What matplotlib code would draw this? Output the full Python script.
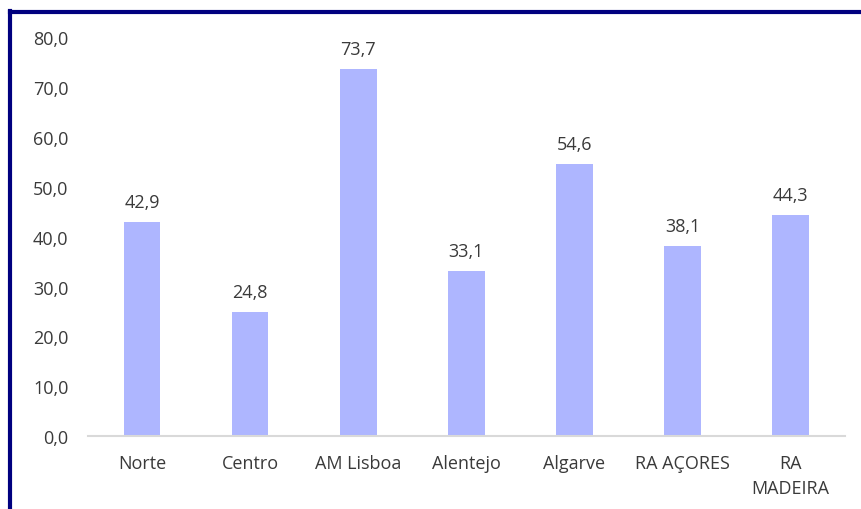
import matplotlib.pyplot as plt
from matplotlib.lines import Line2D

regioes = ["Norte", "Centro", "AM Lisboa", "Alentejo", "Algarve", "RA AÇORES", "RA\nMADEIRA"]
valores = [42.9, 24.8, 73.7, 33.1, 54.6, 38.1, 44.3]
y_ticks = [0, 10, 20, 30, 40, 50, 60, 70, 80]

plt.rcParams['font.family'] = ['Open Sans', 'DejaVu Sans']
cor_texto = "#3a3a3a"
fs = 13

fig = plt.figure(figsize=(8.62, 5.10), dpi=100)
ax = fig.add_axes([0.102, 0.143, 0.878, 0.782])

x = range(len(regioes))
bars = ax.bar(x, valores, width=0.34, color="#AEB6FF")

for i, v in enumerate(valores):
    ax.annotate(f"{v:.1f}".replace(".", ","), (i, v), xytext=(0, 8),
                textcoords="offset points", ha="center", va="bottom",
                fontsize=fs, color=cor_texto)

ax.set_xlim(-0.5, len(regioes) - 0.5)
ax.set_ylim(0, 80)
ax.set_yticks(y_ticks)
ax.set_yticklabels([f"{t:.1f}".replace(".", ",") for t in y_ticks], fontsize=fs, color=cor_texto)
ax.set_xticks(list(x))
ax.set_xticklabels(regioes, fontsize=fs, color=cor_texto, linespacing=1.5)
ax.tick_params(axis="both", length=0)
ax.tick_params(axis="y", pad=14)
ax.tick_params(axis="x", pad=13)

for s in ["top", "right", "left"]:
    ax.spines[s].set_visible(False)
ax.spines["bottom"].set_color("#d9d9d9")
ax.spines["bottom"].set_linewidth(1.5)

# moldura azul escura (topo e esquerda)
fig.add_artist(Line2D([0.0116, 1.0], [0.9745, 0.9745], color="#00007F", lw=3, transform=fig.transFigure))
fig.add_artist(Line2D([0.0116, 0.0116], [0.0, 0.9765], color="#00007F", lw=3, transform=fig.transFigure))

fig.savefig("out.png", dpi=100)
